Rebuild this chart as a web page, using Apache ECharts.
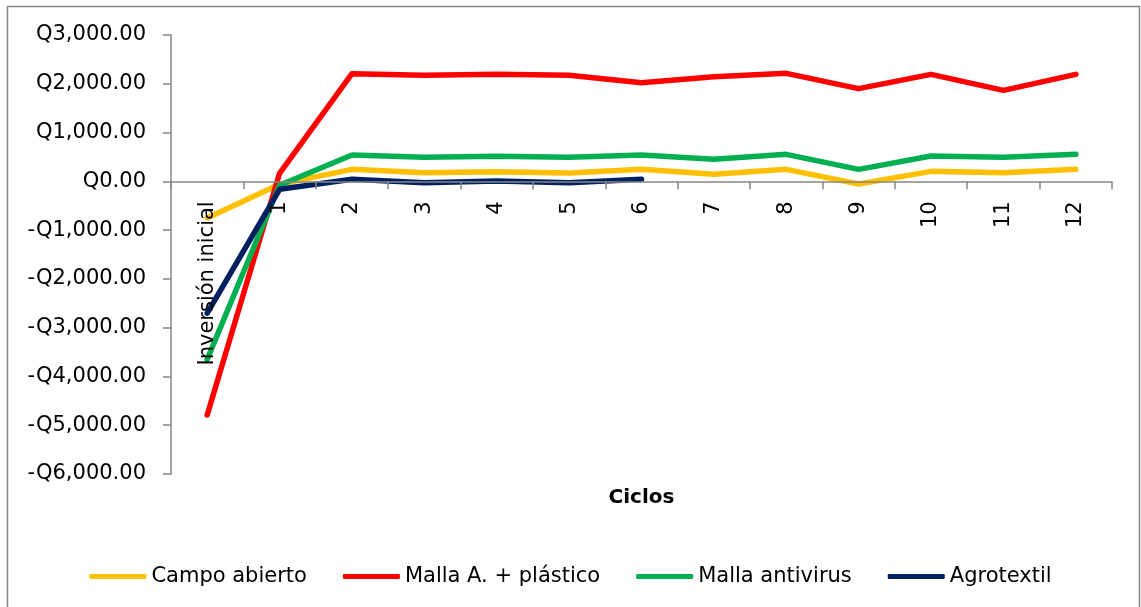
<!DOCTYPE html>
<html>
<head>
<meta charset="utf-8">
<script src="https://cdn.jsdelivr.net/npm/echarts@6/dist/echarts.min.js"></script>
<style>
  html, body { margin: 0; padding: 0; background: #fff; }
  #chart { width: 1141px; height: 607px; }
</style>
</head>
<body>
<div id="chart"></div>
<script>
// Ciclos de producción: inversión inicial y flujo por ciclo (Q)
const ciclos = ['Inversión inicial', '1', '2', '3', '4', '5', '6', '7', '8', '9', '10', '11', '12'];

const campoAbierto   = [-750, -60, 246, 178, 198, 171, 246, 143, 246, -55, 205, 178, 246];
const mallaPlastico  = [-4790, 164, 2208, 2173, 2193, 2173, 2023, 2146, 2214, 1900, 2193, 1865, 2193];
const mallaAntivirus = [-3650, -80, 540, 492, 512, 492, 540, 451, 553, 246, 519, 492, 553];
const agrotextil     = [-2700, -164, 41, -27, 7, -27, 41, null, null, null, null, null, null];

const yTicks = { min: -6000, max: 3000, interval: 1000 };

const FONT = 'DejaVu Sans';
const AXIS_GRAY = '#868686';

// plot area
const GRID = { left: 171, right: 29, top: 35, bottom: 133 };
const CHART_H = 607;
const plotH = CHART_H - GRID.top - GRID.bottom;
// the category axis sits on the zero line of the value axis
const zeroY = GRID.top + plotH * (yTicks.max - 0) / (yTicks.max - yTicks.min);
const xAxisOffset = -((CHART_H - GRID.bottom) - zeroY);

function quetzales(v) {
  const abs = Math.abs(v).toLocaleString('en-US', { minimumFractionDigits: 2, maximumFractionDigits: 2 });
  return (v < 0 ? '-' : '') + 'Q' + abs;
}

function lineSeries(name, data, color) {
  return {
    name: name,
    type: 'line',
    data: data,
    showSymbol: false,
    symbol: 'none',
    connectNulls: false,
    lineStyle: { color: color, width: 5.5, cap: 'round', join: 'round' },
    itemStyle: { color: color }
  };
}

const chart = echarts.init(document.getElementById('chart'), null, { renderer: 'canvas' });

chart.setOption({
  animation: false,
  backgroundColor: '#ffffff',
  textStyle: { fontFamily: FONT },
  grid: Object.assign({ containLabel: false, outerBoundsMode: 'none' }, GRID),
  graphic: [
    {
      type: 'rect',
      shape: { x: 7.5, y: 6.5, width: 1132, height: 640 },
      style: { fill: 'none', stroke: AXIS_GRAY, lineWidth: 1.5 },
      silent: true,
      z: -10
    },
    {
      type: 'text',
      x: 641.5,
      y: 498,
      style: {
        text: 'Ciclos',
        font: 'bold 20px "' + FONT + '"',
        fill: '#000',
        textAlign: 'center',
        textVerticalAlign: 'middle'
      }
    }
  ],
  legend: {
    top: 561,
    left: 'center',
    icon: 'roundRect',
    itemWidth: 57,
    itemHeight: 5,
    itemGap: 36,
    itemStyle: { borderWidth: 0 },
    lineStyle: { width: 0, opacity: 0 },
    textStyle: { fontFamily: FONT, fontSize: 21, color: '#000' },
    data: ['Campo abierto', 'Malla A. + plástico', 'Malla antivirus', 'Agrotextil']
  },
  xAxis: {
    type: 'category',
    data: ciclos,
    boundaryGap: true,
    position: 'bottom',
    offset: xAxisOffset,
    z: 5,
    axisLine: { onZero: false, lineStyle: { color: AXIS_GRAY, width: 1.5 } },
    axisTick: { show: true, inside: false, length: 8, alignWithLabel: false, lineStyle: { color: AXIS_GRAY, width: 1.5 } },
    axisLabel: {
      rotate: 90,
      interval: 0,
      margin: 20,
      fontFamily: FONT,
      fontSize: 21,
      color: '#000'
    },
    splitLine: { show: false }
  },
  yAxis: {
    type: 'value',
    min: yTicks.min,
    max: yTicks.max,
    interval: yTicks.interval,
    axisLine: { show: true, lineStyle: { color: AXIS_GRAY, width: 1.5 } },
    axisTick: { show: true, length: 8, lineStyle: { color: AXIS_GRAY, width: 1.5 } },
    axisLabel: {
      margin: 25,
      fontFamily: FONT,
      fontSize: 21,
      color: '#000',
      formatter: quetzales
    },
    splitLine: { show: false }
  },
  series: [
    lineSeries('Campo abierto', campoAbierto, '#FFC000'),
    lineSeries('Malla A. + plástico', mallaPlastico, '#FF0000'),
    lineSeries('Malla antivirus', mallaAntivirus, '#00B050'),
    lineSeries('Agrotextil', agrotextil, '#002060')
  ]
});
</script>
</body>
</html>
